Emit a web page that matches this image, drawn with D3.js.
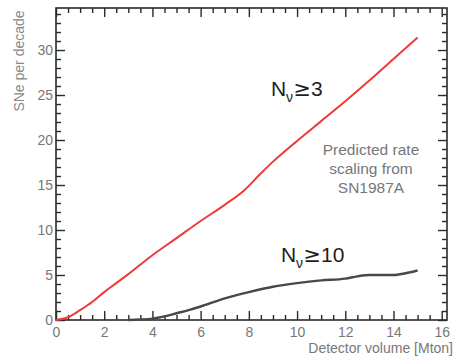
<!DOCTYPE html>
<html>
<head>
<meta charset="utf-8">
<script src="https://cdn.jsdelivr.net/npm/d3@7"></script>
<style>
  html, body { margin: 0; padding: 0; background: #fff; }
  svg { display: block; }
  text { font-family: "Liberation Sans", Arial, Helvetica, sans-serif; }
</style>
</head>
<body>
<svg id="chart" width="455" height="359"></svg>
<script>
// Expected supernova rate vs. detector size, for two neutrino-count thresholds
const volume3 = [0, 0.5, 1, 1.5, 2, 2.5, 3, 4, 5, 6, 7, 7.8, 8.5, 9, 10, 11, 12, 13, 14, 15];
const rate3   = [0, 0.3, 1.1, 2.0, 3.1, 4.1, 5.1, 7.2, 9.1, 11.0, 12.8, 14.4, 16.3, 17.6, 19.9, 22.1, 24.3, 26.6, 29.0, 31.4];

const volume10 = [3, 3.5, 4, 4.5, 5, 5.5, 6, 7, 8, 9, 10, 11, 12, 12.5, 13, 14, 14.5, 15];
const rate10   = [0, 0.05, 0.15, 0.4, 0.75, 1.1, 1.5, 2.4, 3.1, 3.7, 4.1, 4.4, 4.6, 4.85, 5.0, 5.0, 5.2, 5.5];

const xMajorTicks = [0, 2, 4, 6, 8, 10, 12, 14, 16];
const yMajorTicks = [0, 5, 10, 15, 20, 25, 30];

const xLabel = "Detector volume [Mton]";
const yLabel = "SNe per decade";
const noteLines = ["Predicted rate", "scaling from", "SN1987A"];

const svg = d3.select("#chart");
const plotLeft = 56, plotRight = 447, plotTop = 8, plotBottom = 320;

const x = d3.scaleLinear().domain([0, 16.22]).range([plotLeft, plotRight]);
const y = d3.scaleLinear().domain([0, 34.67]).range([plotBottom, plotTop]);

const tickColor = "#777";
const frameColor = "#2a2a2a";

// minor ticks every 0.5 Mton and every 1 SN
const xMinor = d3.range(0, 16.01, 0.5).filter(v => v % 2 !== 0);
const yMinor = d3.range(0, 34.01, 1).filter(v => v % 5 !== 0);

function styleAxis(g) {
  g.select(".domain").remove();
  g.selectAll(".tick line").attr("stroke", frameColor).attr("stroke-width", 1.4);
  g.selectAll(".tick text").attr("fill", tickColor).style("font-size", "14px");
}

// bottom
svg.append("g").attr("transform", `translate(0,${plotBottom})`)
  .call(d3.axisBottom(x).tickValues(xMajorTicks).tickSize(-9).tickPadding(7).tickFormat(d3.format("d")))
  .call(styleAxis);
svg.append("g").attr("transform", `translate(0,${plotBottom})`)
  .call(d3.axisBottom(x).tickValues(xMinor).tickSize(-5).tickFormat(""))
  .call(styleAxis);
// top
svg.append("g").attr("transform", `translate(0,${plotTop})`)
  .call(d3.axisTop(x).tickValues(xMajorTicks).tickSize(-9).tickFormat(""))
  .call(styleAxis);
svg.append("g").attr("transform", `translate(0,${plotTop})`)
  .call(d3.axisTop(x).tickValues(xMinor).tickSize(-5).tickFormat(""))
  .call(styleAxis);
// left
svg.append("g").attr("transform", `translate(${plotLeft},0)`)
  .call(d3.axisLeft(y).tickValues(yMajorTicks).tickSize(-9).tickPadding(3).tickFormat(d3.format("d")))
  .call(styleAxis);
svg.append("g").attr("transform", `translate(${plotLeft},0)`)
  .call(d3.axisLeft(y).tickValues(yMinor).tickSize(-5).tickFormat(""))
  .call(styleAxis);
// right
svg.append("g").attr("transform", `translate(${plotRight},0)`)
  .call(d3.axisRight(y).tickValues(yMajorTicks).tickSize(-9).tickFormat(""))
  .call(styleAxis);
svg.append("g").attr("transform", `translate(${plotRight},0)`)
  .call(d3.axisRight(y).tickValues(yMinor).tickSize(-5).tickFormat(""))
  .call(styleAxis);

// frame
svg.append("rect")
  .attr("x", plotLeft).attr("y", plotTop)
  .attr("width", plotRight - plotLeft).attr("height", plotBottom - plotTop)
  .attr("fill", "none").attr("stroke", frameColor).attr("stroke-width", 1.6);

// curves
const line = d3.line().x(d => x(d[0])).y(d => y(d[1])).curve(d3.curveMonotoneX);

svg.append("path")
  .datum(volume10.map((v, i) => [v, rate10[i]]))
  .attr("d", line)
  .attr("fill", "none").attr("stroke", "#484848").attr("stroke-width", 2.4);

svg.append("path")
  .datum(volume3.map((v, i) => [v, rate3[i]]))
  .attr("d", line)
  .attr("fill", "none").attr("stroke", "#ef3a3a").attr("stroke-width", 2);

// axis titles
svg.append("text")
  .attr("x", 453).attr("y", 353)
  .attr("text-anchor", "end")
  .attr("fill", tickColor).style("font-size", "14px")
  .text(xLabel);

svg.append("text")
  .attr("transform", "translate(24,61) rotate(-90)")
  .attr("text-anchor", "middle")
  .attr("fill", "#888").style("font-size", "14px")
  .text(yLabel);

// threshold labels: N, subscript nu, >= threshold
function thresholdLabel(px, py, n) {
  const t = svg.append("text").attr("x", px).attr("y", py)
    .attr("fill", "#1e1e1e").style("font-size", "21px");
  t.append("tspan").text("N");
  t.append("tspan").attr("x", px + 15).attr("y", py + 6).style("font-size", "14px").text("ν");
  t.append("tspan").attr("x", px + 22.5).attr("y", py)
    .style("font-family", "'DejaVu Sans', sans-serif").style("font-size", "21px").text("≥");
  t.append("tspan").attr("x", px + 40).attr("y", py).text(n);
}
thresholdLabel(271, 96, "3");
thresholdLabel(281, 262, "10");

// note
const note = svg.append("text")
  .attr("text-anchor", "middle")
  .attr("fill", "#777").style("font-size", "15.5px");
noteLines.forEach((s, i) => {
  note.append("tspan").attr("x", 371).attr("y", 155 + i * 19).text(s);
});
</script>
</body>
</html>
